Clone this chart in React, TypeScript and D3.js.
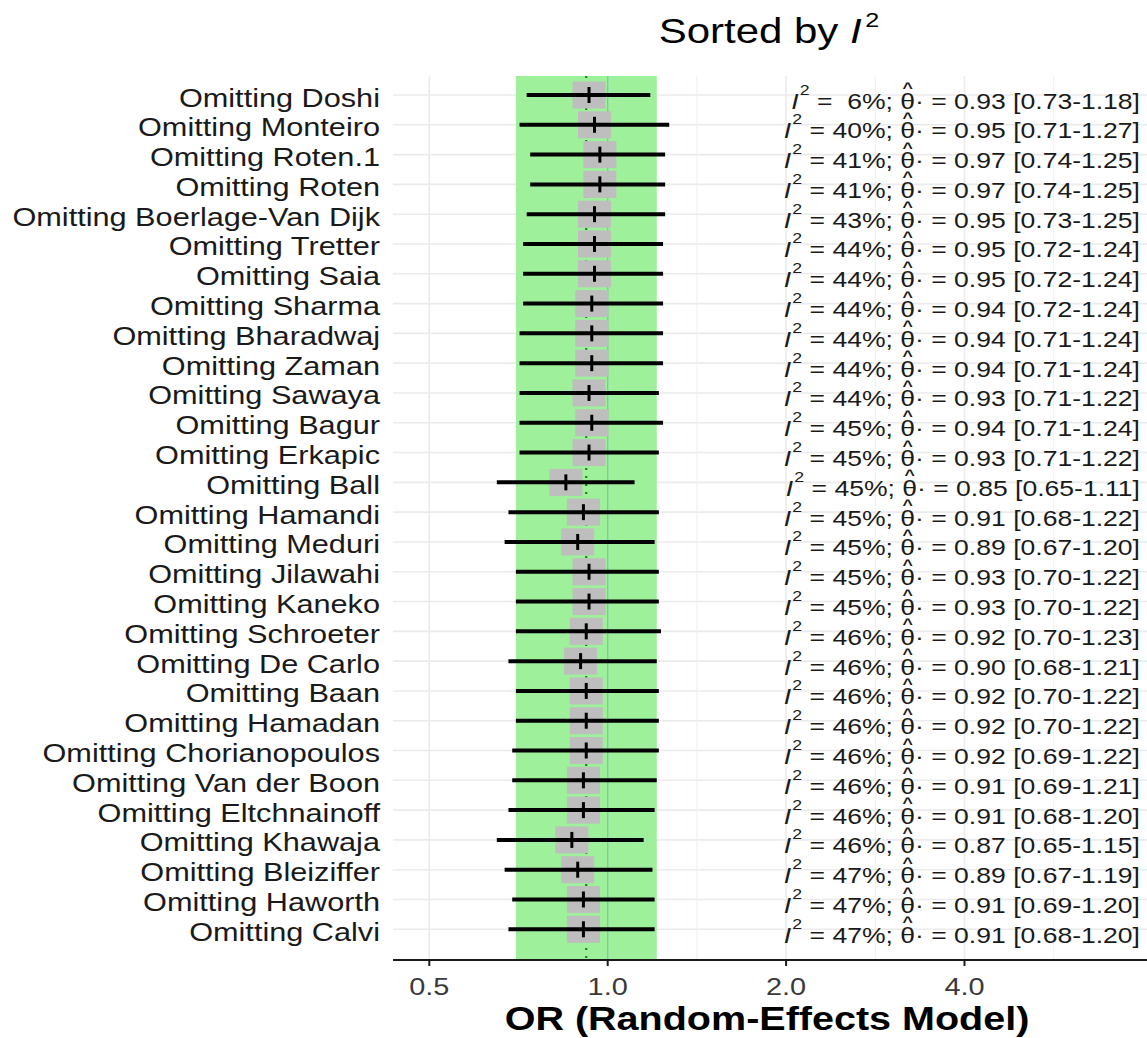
import React, { useEffect, useRef } from "react";
import * as d3 from "d3";

const studies = [
  "Doshi", "Monteiro", "Roten.1", "Roten", "Boerlage-Van Dijk", "Tretter", "Saia", "Sharma",
  "Bharadwaj", "Zaman", "Sawaya", "Bagur", "Erkapic", "Ball", "Hamandi", "Meduri", "Jilawahi",
  "Kaneko", "Schroeter", "De Carlo", "Baan", "Hamadan", "Chorianopoulos", "Van der Boon",
  "Eltchnainoff", "Khawaja", "Bleiziffer", "Haworth", "Calvi",
];
const i2Values = [6, 40, 41, 41, 43, 44, 44, 44, 44, 44, 44, 45, 45, 45, 45, 45, 45, 45, 46, 46, 46, 46, 46, 46, 46, 46, 47, 47, 47];
const estimates = [0.93, 0.95, 0.97, 0.97, 0.95, 0.95, 0.95, 0.94, 0.94, 0.94, 0.93, 0.94, 0.93, 0.85, 0.91, 0.89, 0.93, 0.93, 0.92, 0.90, 0.92, 0.92, 0.92, 0.91, 0.91, 0.87, 0.89, 0.91, 0.91];
const lowers = [0.73, 0.71, 0.74, 0.74, 0.73, 0.72, 0.72, 0.72, 0.71, 0.71, 0.71, 0.71, 0.71, 0.65, 0.68, 0.67, 0.70, 0.70, 0.70, 0.68, 0.70, 0.70, 0.69, 0.69, 0.68, 0.65, 0.67, 0.69, 0.68];
const uppers = [1.18, 1.27, 1.25, 1.25, 1.25, 1.24, 1.24, 1.24, 1.24, 1.24, 1.22, 1.24, 1.22, 1.11, 1.22, 1.20, 1.22, 1.22, 1.23, 1.21, 1.22, 1.22, 1.22, 1.21, 1.20, 1.15, 1.19, 1.20, 1.20];
const pooledEstimate = [0.92];
const pooledInterval = [0.70, 1.21];
const majorTicks = [0.5, 1, 2, 4];
const majorTickLabels = ["0.5", "1.0", "2.0", "4.0"];
const minorTicks = [0.3536, 0.7071, 1.4142, 2.8284, 5.6569];

const FONT = "'Liberation Sans', Arial, Helvetica, sans-serif";
const SX = 1.18;

export default function App() {
  const ref = useRef<SVGSVGElement>(null);

  useEffect(() => {
    const svg = d3.select(ref.current);
    svg.selectAll("*").remove();

    const panel = { l: 393, r: 1147, t: 76, b: 960 };
    const x = d3.scaleLog().domain([0.5, 4]).range([429.3, 964.5]);
    const y = d3.scalePoint<string>().domain(studies).range([95, 929.3]);

    svg.append("rect").attr("width", 1147).attr("height", 1038).attr("fill", "#ffffff");

    // grid
    const grid = svg.append("g");
    grid.selectAll("line.h").data(studies).join("line")
      .attr("x1", panel.l).attr("x2", panel.r)
      .attr("y1", (d) => y(d)!).attr("y2", (d) => y(d)!)
      .attr("stroke", "#ebebeb").attr("stroke-width", 1.6);
    grid.append("g").selectAll("line").data(minorTicks.filter((v) => x(v) > panel.l && x(v) < panel.r)).join("line")
      .attr("x1", (d) => x(d)).attr("x2", (d) => x(d))
      .attr("y1", panel.t).attr("y2", panel.b)
      .attr("stroke", "#efefef").attr("stroke-width", 1);
    grid.append("g").selectAll("line").data(majorTicks).join("line")
      .attr("x1", (d) => x(d)).attr("x2", (d) => x(d))
      .attr("y1", panel.t).attr("y2", panel.b)
      .attr("stroke", "#ebebeb").attr("stroke-width", 1.6);

    // pooled CI band
    svg.append("rect")
      .attr("x", x(pooledInterval[0])).attr("width", x(pooledInterval[1]) - x(pooledInterval[0]))
      .attr("y", panel.t).attr("height", panel.b - panel.t)
      .attr("fill", "#9ef09a");
    svg.append("line")
      .attr("x1", x(1)).attr("x2", x(1)).attr("y1", panel.t).attr("y2", panel.b)
      .attr("stroke", "#86bfae").attr("stroke-width", 1.3);

    // pooled estimate dotted line
    svg.append("line")
      .attr("x1", x(pooledEstimate[0])).attr("x2", x(pooledEstimate[0]))
      .attr("y1", panel.t).attr("y2", panel.b)
      .attr("stroke", "#1f6b1f").attr("stroke-width", 2).attr("stroke-dasharray", "2 6");

    const rows = studies.map((s, i) => ({ s, i2: i2Values[i], est: estimates[i], lo: lowers[i], hi: uppers[i] }));

    // boxes
    svg.append("g").selectAll("rect").data(rows).join("rect")
      .attr("x", (d) => x(d.est) - 16.5).attr("width", 33)
      .attr("y", (d) => y(d.s)! - 13.5).attr("height", 27)
      .attr("fill", "#bebebe");
    // CI lines
    svg.append("g").selectAll("line").data(rows).join("line")
      .attr("x1", (d) => x(d.lo)).attr("x2", (d) => x(d.hi))
      .attr("y1", (d) => y(d.s)!).attr("y2", (d) => y(d.s)!)
      .attr("stroke", "#000").attr("stroke-width", 4);
    // estimate ticks
    svg.append("g").selectAll("line").data(rows).join("line")
      .attr("x1", (d) => x(d.est)).attr("x2", (d) => x(d.est))
      .attr("y1", (d) => y(d.s)! - 8).attr("y2", (d) => y(d.s)! + 8)
      .attr("stroke", "#000").attr("stroke-width", 3);

    // row labels
    svg.append("g").selectAll("text").data(rows).join("text")
      .attr("transform", (d) => `translate(380,${y(d.s)! + 11.5}) scale(${SX},1)`)
      .attr("text-anchor", "end")
      .attr("font-family", FONT).attr("font-size", 26).attr("fill", "#1a1a1a")
      .text((d) => `Omitting ${d.s}`);

    // annotations
    const ann = svg.append("g");
    rows.forEach((d) => {
      const g = ann.append("g").attr("transform", `translate(1140,${y(d.s)!}) scale(${SX},1)`);
      const t = g.append("text")
        .attr("y", 13.5)
        .attr("text-anchor", "end")
        .attr("font-family", FONT).attr("font-size", 22.5).attr("fill", "#1a1a1a")
        .style("white-space", "pre");
      t.append("tspan").attr("font-style", "italic").text("I");
      t.append("tspan").attr("font-size", 15).attr("dx", 1).attr("dy", -14).text("2");
      const pct = String(d.i2).padStart(2, " ");
      t.append("tspan").attr("dy", 14).text(` = ${pct}%; θ· = ${d.est.toFixed(2)} [${d.lo.toFixed(2)}-${d.hi.toFixed(2)}]`);
      const full = t.node()!.textContent || "";
      const idx = full.indexOf("θ");
      const node = t.node() as SVGTextElement;
      const p0 = node.getStartPositionOfChar(idx);
      const p1 = node.getEndPositionOfChar(idx);
      g.append("text")
        .attr("x", (p0.x + p1.x) / 2).attr("y", -2)
        .attr("text-anchor", "middle")
        .attr("font-family", FONT).attr("font-size", 15).attr("font-weight", "bold").attr("fill", "#1a1a1a")
        .text("^");
    });

    // x axis
    svg.append("line").attr("x1", panel.l).attr("x2", panel.r).attr("y1", panel.b).attr("y2", panel.b)
      .attr("stroke", "#1a1a1a").attr("stroke-width", 2);
    svg.append("g").selectAll("line").data(majorTicks).join("line")
      .attr("x1", (d) => x(d)).attr("x2", (d) => x(d)).attr("y1", panel.b).attr("y2", panel.b + 6)
      .attr("stroke", "#1a1a1a").attr("stroke-width", 2);
    svg.append("g").selectAll("text").data(majorTicks).join("text")
      .attr("transform", (d) => `translate(${x(d)},${panel.b + 35}) scale(${SX},1)`)
      .attr("text-anchor", "middle")
      .attr("font-family", FONT).attr("font-size", 24.5).attr("fill", "#3a3a3a")
      .text((d, i) => majorTickLabels[i]);

    // axis title
    svg.append("text")
      .attr("transform", `translate(767,1030) scale(${SX},1)`)
      .attr("text-anchor", "middle")
      .attr("font-family", FONT).attr("font-size", 33.5).attr("font-weight", "bold").attr("fill", "#000")
      .text("OR (Random-Effects Model)");

    // title
    const title = svg.append("text")
      .attr("transform", `translate(769,43) scale(1.2,1)`)
      .attr("text-anchor", "middle")
      .attr("font-family", FONT).attr("font-size", 35).attr("fill", "#000")
      .style("white-space", "pre");
    title.append("tspan").text("Sorted by ");
    title.append("tspan").attr("font-style", "italic").text("I");
    title.append("tspan").attr("font-size", 21).attr("dx", 3).attr("dy", -16).text("2");
  }, []);

  return (
    <svg
      ref={ref}
      width={1147}
      height={1038}
      style={{ position: "absolute", left: 0, top: 0, display: "block" }}
    />
  );
}
